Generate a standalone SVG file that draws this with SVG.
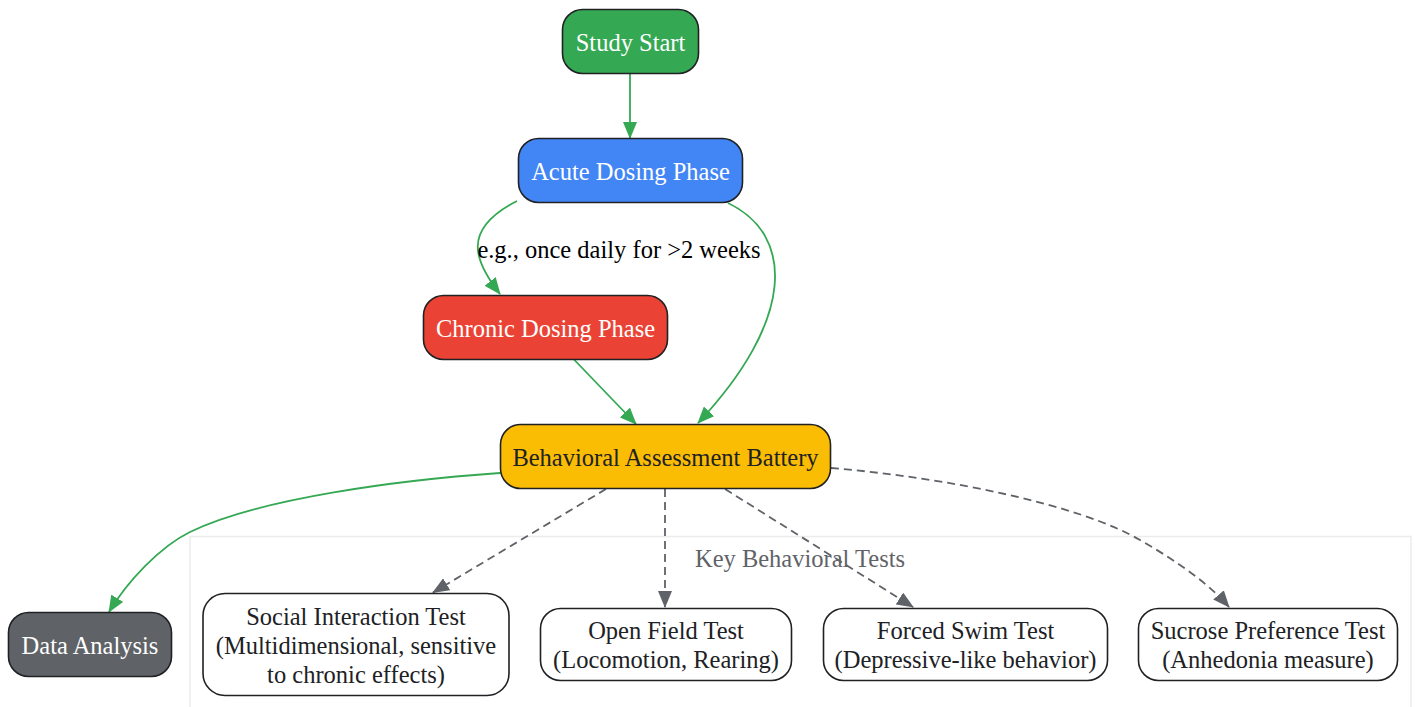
<svg xmlns="http://www.w3.org/2000/svg" width="1415" height="707" viewBox="0 0 1415 707">
<defs>
<style>
text{font-family:"Liberation Serif","Times New Roman",serif;font-size:24.5px;text-anchor:middle}
.n{stroke:#202124;stroke-width:1.6}
.w{fill:#ffffff}
.d{fill:#202124}
.g{fill:none;stroke:#34a853;stroke-width:1.8}
.k{fill:none;stroke:#5f6368;stroke-width:1.8;stroke-dasharray:8,5}
</style>
<marker id="ag" viewBox="0 0 17 14" refX="16" refY="7" markerWidth="17" markerHeight="14" markerUnits="userSpaceOnUse" orient="auto"><path d="M0,0 L17,7 L0,14 z" fill="#34a853"/></marker>
<marker id="ak" viewBox="0 0 17 14" refX="16" refY="7" markerWidth="17" markerHeight="14" markerUnits="userSpaceOnUse" orient="auto"><path d="M0,0 L17,7 L0,14 z" fill="#5f6368"/></marker>
</defs>
<rect width="1415" height="707" fill="#ffffff"/>
<g id="cluster">
<rect x="190" y="536.5" width="1221" height="190" fill="#ffffff" stroke="#ececec" stroke-width="1.5"/>
<text x="800" y="567" fill="#5f6368">Key Behavioral Tests</text>
</g>
<g id="connectors">
<path class="g" d="M630,73.5 L630,138" marker-end="url(#ag)"/>
<path class="g" d="M517,201 C460,230 475,262 500,294" marker-end="url(#ag)"/>
<text x="619" y="258" fill="#000000">e.g., once daily for &gt;2 weeks</text>
<path class="g" d="M728,203 C795,235 795,320 698,423" marker-end="url(#ag)"/>
<path class="g" d="M574,359.5 L636,424" marker-end="url(#ag)"/>
<path class="g" d="M500,473 C400,480 260,498 190,532 C160,546.6 127,582 109,612" marker-end="url(#ag)"/>
<path class="k" d="M606,489 L433,592.5" marker-end="url(#ak)"/>
<path class="k" d="M665,489 L665,607" marker-end="url(#ak)"/>
<path class="k" d="M725,489 L913,607" marker-end="url(#ak)"/>
<path class="k" d="M831,468 C950,478 1080,505 1140,540 C1180,563 1210,585 1229,607" marker-end="url(#ak)"/>
</g>
<g id="study-start">
<rect class="n" x="562.5" y="9.5" width="136" height="64" rx="20" fill="#34a853"/>
<text x="630.5" y="51" class="w">Study Start</text>
</g>
<g id="acute">
<rect class="n" x="518.5" y="138.5" width="224" height="64" rx="20" fill="#4285f4"/>
<text x="630.5" y="180" class="w">Acute Dosing Phase</text>
</g>
<g id="chronic">
<rect class="n" x="423.5" y="295.5" width="244" height="64" rx="20" fill="#ea4335"/>
<text x="545.5" y="337" class="w">Chronic Dosing Phase</text>
</g>
<g id="battery">
<rect class="n" x="500.5" y="424.5" width="330" height="64" rx="20" fill="#fbbc04"/>
<text x="665.5" y="466" class="d">Behavioral Assessment Battery</text>
</g>
<g id="data-analysis">
<rect class="n" x="8.5" y="612.5" width="163" height="64" rx="20" fill="#5f6368"/>
<text x="90" y="654" class="w">Data Analysis</text>
</g>
<g id="social">
<rect class="n" x="203" y="593.5" width="306" height="102" rx="22" fill="#ffffff"/>
<text x="356" y="625" class="d">Social Interaction Test</text>
<text x="356" y="654" class="d">(Multidimensional, sensitive</text>
<text x="356" y="683" class="d">to chronic effects)</text>
</g>
<g id="open-field">
<rect class="n" x="540.5" y="608.5" width="251" height="72" rx="20" fill="#ffffff"/>
<text x="666" y="639" class="d">Open Field Test</text>
<text x="666" y="668" class="d">(Locomotion, Rearing)</text>
</g>
<g id="forced-swim">
<rect class="n" x="823.5" y="608.5" width="284" height="72" rx="20" fill="#ffffff"/>
<text x="965.5" y="639" class="d">Forced Swim Test</text>
<text x="965.5" y="668" class="d">(Depressive-like behavior)</text>
</g>
<g id="sucrose">
<rect class="n" x="1138.5" y="608.5" width="259" height="72" rx="20" fill="#ffffff"/>
<text x="1268" y="639" class="d">Sucrose Preference Test</text>
<text x="1268" y="668" class="d">(Anhedonia measure)</text>
</g>
</svg>
